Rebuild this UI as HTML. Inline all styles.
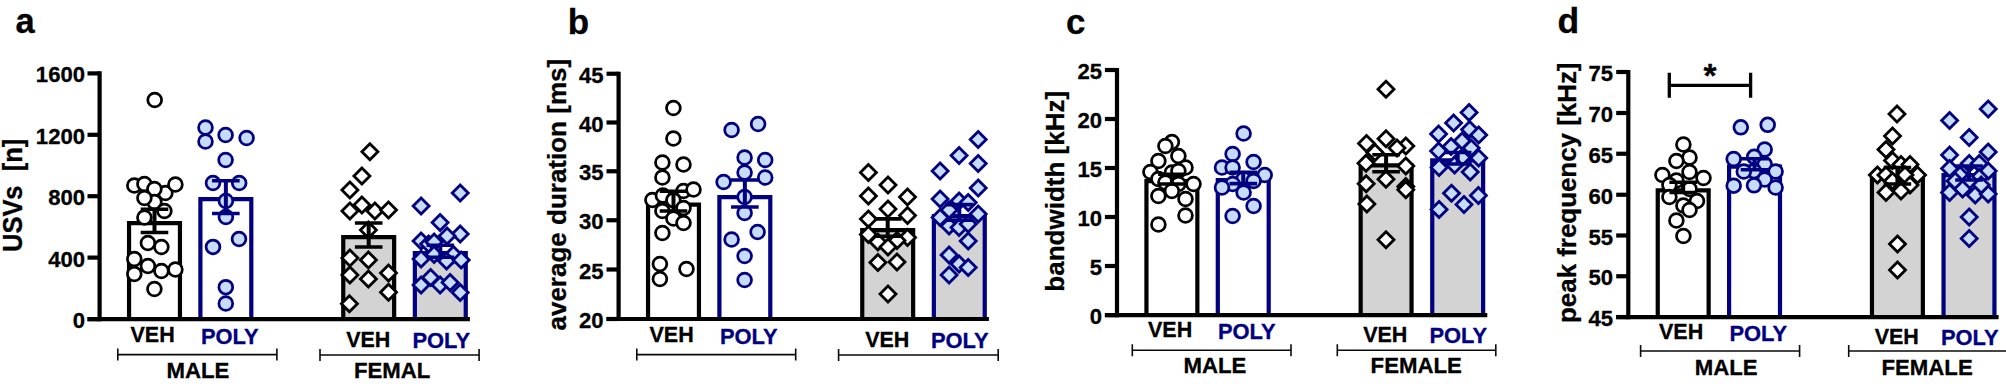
<!DOCTYPE html>
<html lang="en">
<head>
<meta charset="utf-8">
<title>Figure</title>
<style>
html,body{margin:0;padding:0;background:#ffffff;}
body{width:2006px;height:387px;overflow:hidden;}
svg{display:block;}
svg text{font-family:"Liberation Sans",sans-serif;font-weight:bold;stroke-width:0.3px;stroke-linejoin:round;}
</style>
</head>
<body>
<svg width="2006" height="387" viewBox="0 0 2006 387">
<rect x="0" y="0" width="2006" height="387" fill="#ffffff"/>
<g>
<path d="M129.05 319.1 V223.1 H179.95 V319.1" fill="#ffffff" stroke="#000000" stroke-width="4.2" stroke-linejoin="miter"/>
<path d="M200.4 319.1 V199.1 H251.3 V319.1" fill="#ffffff" stroke="#000080" stroke-width="4.2" stroke-linejoin="miter"/>
<path d="M343.25 319.1 V237.1 H394.15 V319.1" fill="#d3d3d3" stroke="#000000" stroke-width="4.2" stroke-linejoin="miter"/>
<path d="M414.85 319.1 V253.1 H465.75 V319.1" fill="#d3d3d3" stroke="#000080" stroke-width="4.2" stroke-linejoin="miter"/>
<path d="M99.6 71.3 V321.2" stroke="#000000" stroke-width="4.2" fill="none"/>
<path d="M87.5 319.1 H469.9" stroke="#000000" stroke-width="4.2" fill="none"/>
<path d="M87.5 73.4 H99.6" stroke="#000000" stroke-width="4.2" fill="none"/>
<path d="M87.5 134.8 H99.6" stroke="#000000" stroke-width="4.2" fill="none"/>
<path d="M87.5 196.2 H99.6" stroke="#000000" stroke-width="4.2" fill="none"/>
<path d="M87.5 257.6 H99.6" stroke="#000000" stroke-width="4.2" fill="none"/>
<path d="M87.5 319.1 H99.6" stroke="#000000" stroke-width="4.2" fill="none"/>
<text transform="translate(85 82.4) scale(1 1.04)" font-size="22.1" fill="#000000" stroke="#000000" text-anchor="end">1600</text>
<text transform="translate(85 143.8) scale(1 1.04)" font-size="22.1" fill="#000000" stroke="#000000" text-anchor="end">1200</text>
<text transform="translate(85 205.2) scale(1 1.04)" font-size="22.1" fill="#000000" stroke="#000000" text-anchor="end">800</text>
<text transform="translate(85 266.6) scale(1 1.04)" font-size="22.1" fill="#000000" stroke="#000000" text-anchor="end">400</text>
<text transform="translate(85 328.1) scale(1 1.04)" font-size="22.1" fill="#000000" stroke="#000000" text-anchor="end">0</text>
<text transform="translate(21.8 195.4) rotate(-90) scale(1 1.08)" font-size="25.5" fill="#000000" stroke="#000000" text-anchor="middle" xml:space="preserve" style="white-space:pre">USVs  [n]</text>
<g fill="#ffffff" stroke="#000000" stroke-width="2.75" stroke-linejoin="miter">
<circle cx="154.7" cy="100" r="6.9"/>
<circle cx="134.3" cy="185.5" r="6.9"/>
<circle cx="144.4" cy="184" r="6.9"/>
<circle cx="165.4" cy="193" r="6.9"/>
<circle cx="154.4" cy="189" r="6.9"/>
<circle cx="175.4" cy="184.5" r="6.9"/>
<circle cx="154.4" cy="202" r="6.9"/>
<circle cx="144.4" cy="198" r="6.9"/>
<circle cx="164.4" cy="211" r="6.9"/>
<circle cx="144.4" cy="217.5" r="6.9"/>
<circle cx="147.9" cy="243" r="6.9"/>
<circle cx="161.4" cy="247" r="6.9"/>
<circle cx="134.3" cy="259" r="6.9"/>
<circle cx="147.9" cy="266" r="6.9"/>
<circle cx="161.4" cy="271" r="6.9"/>
<circle cx="175.4" cy="269.5" r="6.9"/>
<circle cx="134.3" cy="274" r="6.9"/>
<circle cx="154.4" cy="289" r="6.9"/>
</g>
<g fill="#c6dcf8" stroke="#000080" stroke-width="2.75" stroke-linejoin="miter">
<circle cx="205.5" cy="127.5" r="6.9"/>
<circle cx="205.5" cy="141.5" r="6.9"/>
<circle cx="225.6" cy="135" r="6.9"/>
<circle cx="246.6" cy="138" r="6.9"/>
<circle cx="225.6" cy="160" r="6.9"/>
<circle cx="213" cy="183" r="6.9"/>
<circle cx="239.2" cy="183" r="6.9"/>
<circle cx="225.9" cy="201" r="6.9"/>
<circle cx="225.9" cy="217" r="6.9"/>
<circle cx="239" cy="239" r="6.9"/>
<circle cx="213" cy="246.9" r="6.9"/>
<circle cx="225.8" cy="287.2" r="6.9"/>
<circle cx="225.8" cy="303.5" r="6.9"/>
</g>
<g fill="#ffffff" stroke="#000000" stroke-width="2.8" stroke-linejoin="miter">
<path d="M369.9 143.8L377.9 151.8L369.9 159.8L361.9 151.8Z"/>
<path d="M361.9 168L369.9 176L361.9 184L353.9 176Z"/>
<path d="M349.9 182L357.9 190L349.9 198L341.9 190Z"/>
<path d="M361.9 197L369.9 205L361.9 213L353.9 205Z"/>
<path d="M349.9 203L357.9 211L349.9 219L341.9 211Z"/>
<path d="M374.9 203L382.9 211L374.9 219L366.9 211Z"/>
<path d="M388.5 202L396.5 210L388.5 218L380.5 210Z"/>
<path d="M368.4 222L376.4 230L368.4 238L360.4 230Z"/>
<path d="M349.9 250L357.9 258L349.9 266L341.9 258Z"/>
<path d="M368.4 252L376.4 260L368.4 268L360.4 260Z"/>
<path d="M388.5 265L396.5 273L388.5 281L380.5 273Z"/>
<path d="M349.9 267L357.9 275L349.9 283L341.9 275Z"/>
<path d="M368.4 271L376.4 279L368.4 287L360.4 279Z"/>
<path d="M388.5 284.3L396.5 292.3L388.5 300.3L380.5 292.3Z"/>
<path d="M349.4 295.7L357.4 303.7L349.4 311.7L341.4 303.7Z"/>
</g>
<g fill="#c6dcf8" stroke="#000080" stroke-width="2.8" stroke-linejoin="miter">
<path d="M460.2 185L468.2 193L460.2 201L452.2 193Z"/>
<path d="M421.1 198L429.1 206L421.1 214L413.1 206Z"/>
<path d="M440.1 214.5L448.1 222.5L440.1 230.5L432.1 222.5Z"/>
<path d="M460.2 226L468.2 234L460.2 242L452.2 234Z"/>
<path d="M447.1 228L455.1 236L447.1 244L439.1 236Z"/>
<path d="M421.1 233L429.1 241L421.1 249L413.1 241Z"/>
<path d="M428.6 236L436.6 244L428.6 252L420.6 244Z"/>
<path d="M434.1 234L442.1 242L434.1 250L426.1 242Z"/>
<path d="M434.1 246.4L442.1 254.4L434.1 262.4L426.1 254.4Z"/>
<path d="M453.4 246.4L461.4 254.4L453.4 262.4L445.4 254.4Z"/>
<path d="M421.1 251L429.1 259L421.1 267L413.1 259Z"/>
<path d="M446.6 253L454.6 261L446.6 269L438.6 261Z"/>
<path d="M461.2 252L469.2 260L461.2 268L453.2 260Z"/>
<path d="M430.6 269.5L438.6 277.5L430.6 285.5L422.6 277.5Z"/>
<path d="M421.1 277L429.1 285L421.1 293L413.1 285Z"/>
<path d="M440.1 277L448.1 285L440.1 293L432.1 285Z"/>
<path d="M450.1 274.5L458.1 282.5L450.1 290.5L442.1 282.5Z"/>
<path d="M460.2 284.5L468.2 292.5L460.2 300.5L452.2 292.5Z"/>
</g>
<path d="M154.5 209.3 V232.5" stroke="#000000" stroke-width="4" fill="none"/>
<path d="M140.7 209.3 H168.3 M140.7 232.5 H168.3" stroke="#000000" stroke-width="3.6" fill="none"/>
<path d="M225.85 180.8 V213.5" stroke="#000080" stroke-width="4" fill="none"/>
<path d="M212.05 180.8 H239.65 M212.05 213.5 H239.65" stroke="#000080" stroke-width="3.6" fill="none"/>
<path d="M368.7 223 V247" stroke="#000000" stroke-width="4" fill="none"/>
<path d="M354.9 223 H382.5 M354.9 247 H382.5" stroke="#000000" stroke-width="3.6" fill="none"/>
<path d="M440.3 245.3 V257.3" stroke="#000080" stroke-width="4" fill="none"/>
<path d="M426.5 245.3 H454.1 M426.5 257.3 H454.1" stroke="#000080" stroke-width="3.6" fill="none"/>
<text transform="translate(130.5 342) scale(1 1.05)" font-size="21.5" fill="#000000" stroke="#000000" text-anchor="start">VEH</text>
<text transform="translate(201 344) scale(1 1.03)" font-size="21.9" fill="#000080" stroke="#000080" text-anchor="start">POLY</text>
<text transform="translate(346.2 347) scale(1 1.05)" font-size="21.5" fill="#000000" stroke="#000000" text-anchor="start">VEH</text>
<text transform="translate(412.5 348) scale(1 1.03)" font-size="21.9" fill="#000080" stroke="#000080" text-anchor="start">POLY</text>
<path d="M117.8 348.6 V360.6 M276.9 348.6 V360.6 M117.8 354.6 H276.9" stroke="#0a0a0a" stroke-width="1.6" fill="none"/>
<path d="M320 349 V361 M479.1 349 V361 M320 355 H479.1" stroke="#0a0a0a" stroke-width="1.6" fill="none"/>
<text transform="translate(166.4 378.2) scale(1 1.03)" font-size="22.2" fill="#000000" stroke="#000000" text-anchor="start">MALE</text>
<text transform="translate(354 378.2) scale(1 1.03)" font-size="22.2" fill="#000000" stroke="#000000" text-anchor="start">FEMAL</text>
<text x="15.5" y="33" font-size="34.5" fill="#000000" stroke="#000000" text-anchor="start">a</text>
</g>
<g>
<path d="M648.05 319 V204.6 H698.95 V319" fill="#ffffff" stroke="#000000" stroke-width="4.2" stroke-linejoin="miter"/>
<path d="M719.4 319 V197.1 H770.3 V319" fill="#ffffff" stroke="#000080" stroke-width="4.2" stroke-linejoin="miter"/>
<path d="M862.25 319 V230.1 H913.15 V319" fill="#d3d3d3" stroke="#000000" stroke-width="4.2" stroke-linejoin="miter"/>
<path d="M933.85 319 V216.1 H984.75 V319" fill="#d3d3d3" stroke="#000080" stroke-width="4.2" stroke-linejoin="miter"/>
<path d="M618.6 71.65 V321.1" stroke="#000000" stroke-width="4.2" fill="none"/>
<path d="M606.5 319 H988.9" stroke="#000000" stroke-width="4.2" fill="none"/>
<path d="M606.5 73.75 H618.6" stroke="#000000" stroke-width="4.2" fill="none"/>
<path d="M606.5 122.5 H618.6" stroke="#000000" stroke-width="4.2" fill="none"/>
<path d="M606.5 171.25 H618.6" stroke="#000000" stroke-width="4.2" fill="none"/>
<path d="M606.5 220.25 H618.6" stroke="#000000" stroke-width="4.2" fill="none"/>
<path d="M606.5 269.5 H618.6" stroke="#000000" stroke-width="4.2" fill="none"/>
<path d="M606.5 319 H618.6" stroke="#000000" stroke-width="4.2" fill="none"/>
<text transform="translate(603.5 82.75) scale(1 1.04)" font-size="22.1" fill="#000000" stroke="#000000" text-anchor="end">45</text>
<text transform="translate(603.5 131.5) scale(1 1.04)" font-size="22.1" fill="#000000" stroke="#000000" text-anchor="end">40</text>
<text transform="translate(603.5 180.25) scale(1 1.04)" font-size="22.1" fill="#000000" stroke="#000000" text-anchor="end">35</text>
<text transform="translate(603.5 229.25) scale(1 1.04)" font-size="22.1" fill="#000000" stroke="#000000" text-anchor="end">30</text>
<text transform="translate(603.5 278.5) scale(1 1.04)" font-size="22.1" fill="#000000" stroke="#000000" text-anchor="end">25</text>
<text transform="translate(603.5 328) scale(1 1.04)" font-size="22.1" fill="#000000" stroke="#000000" text-anchor="end">20</text>
<text transform="translate(565.5 194.7) rotate(-90) scale(1 1)" font-size="26" fill="#000000" stroke="#000000" text-anchor="middle" xml:space="preserve" style="white-space:pre">average duration [ms]</text>
<g fill="#ffffff" stroke="#000000" stroke-width="2.75" stroke-linejoin="miter">
<circle cx="673.4" cy="108" r="6.9"/>
<circle cx="673.4" cy="138.5" r="6.9"/>
<circle cx="662.4" cy="162.5" r="6.9"/>
<circle cx="683.5" cy="164.5" r="6.9"/>
<circle cx="662.4" cy="177.5" r="6.9"/>
<circle cx="683.5" cy="191" r="6.9"/>
<circle cx="693.5" cy="189.5" r="6.9"/>
<circle cx="652.4" cy="200" r="6.9"/>
<circle cx="662.9" cy="195.5" r="6.9"/>
<circle cx="673.4" cy="200.2" r="6.9"/>
<circle cx="662.4" cy="211" r="6.9"/>
<circle cx="683.5" cy="208" r="6.9"/>
<circle cx="673.4" cy="218.5" r="6.9"/>
<circle cx="683.5" cy="223" r="6.9"/>
<circle cx="662.4" cy="233" r="6.9"/>
<circle cx="659.9" cy="264" r="6.9"/>
<circle cx="686.5" cy="269" r="6.9"/>
<circle cx="659.9" cy="279" r="6.9"/>
</g>
<g fill="#c6dcf8" stroke="#000080" stroke-width="2.75" stroke-linejoin="miter">
<circle cx="731.6" cy="130" r="6.9"/>
<circle cx="758.1" cy="124" r="6.9"/>
<circle cx="744.6" cy="157.5" r="6.9"/>
<circle cx="765.2" cy="160" r="6.9"/>
<circle cx="744.6" cy="172.5" r="6.9"/>
<circle cx="765.2" cy="177.5" r="6.9"/>
<circle cx="723.6" cy="182" r="6.9"/>
<circle cx="744.6" cy="197" r="6.9"/>
<circle cx="744.6" cy="213" r="6.9"/>
<circle cx="757.6" cy="232" r="6.9"/>
<circle cx="731.6" cy="239.5" r="6.9"/>
<circle cx="744.6" cy="256" r="6.9"/>
<circle cx="744.6" cy="280" r="6.9"/>
</g>
<g fill="#ffffff" stroke="#000000" stroke-width="2.8" stroke-linejoin="miter">
<path d="M868.4 164.5L876.4 172.5L868.4 180.5L860.4 172.5Z"/>
<path d="M888 177L896 185L888 193L880 185Z"/>
<path d="M868.4 188L876.4 196L868.4 204L860.4 196Z"/>
<path d="M907.5 189L915.5 197L907.5 205L899.5 197Z"/>
<path d="M888 201L896 209L888 217L880 209Z"/>
<path d="M868.4 211L876.4 219L868.4 227L860.4 219Z"/>
<path d="M907.5 207.5L915.5 215.5L907.5 223.5L899.5 215.5Z"/>
<path d="M868.4 226.5L876.4 234.5L868.4 242.5L860.4 234.5Z"/>
<path d="M907.5 229.5L915.5 237.5L907.5 245.5L899.5 237.5Z"/>
<path d="M877.9 234L885.9 242L877.9 250L869.9 242Z"/>
<path d="M897 232.5L905 240.5L897 248.5L889 240.5Z"/>
<path d="M888 239L896 247L888 255L880 247Z"/>
<path d="M877.9 254.5L885.9 262.5L877.9 270.5L869.9 262.5Z"/>
<path d="M897 254L905 262L897 270L889 262Z"/>
<path d="M888 286L896 294L888 302L880 294Z"/>
</g>
<g fill="#c6dcf8" stroke="#000080" stroke-width="2.8" stroke-linejoin="miter">
<path d="M978.2 131.5L986.2 139.5L978.2 147.5L970.2 139.5Z"/>
<path d="M959.1 147.5L967.1 155.5L959.1 163.5L951.1 155.5Z"/>
<path d="M978.2 155.5L986.2 163.5L978.2 171.5L970.2 163.5Z"/>
<path d="M940.1 163L948.1 171L940.1 179L932.1 171Z"/>
<path d="M978.2 180L986.2 188L978.2 196L970.2 188Z"/>
<path d="M940.1 191L948.1 199L940.1 207L932.1 199Z"/>
<path d="M959.1 193L967.1 201L959.1 209L951.1 201Z"/>
<path d="M968.2 194.5L976.2 202.5L968.2 210.5L960.2 202.5Z"/>
<path d="M949.1 202L957.1 210L949.1 218L941.1 210Z"/>
<path d="M978.2 206L986.2 214L978.2 222L970.2 214Z"/>
<path d="M940.1 209.5L948.1 217.5L940.1 225.5L932.1 217.5Z"/>
<path d="M949.1 218L957.1 226L949.1 234L941.1 226Z"/>
<path d="M959.1 219.5L967.1 227.5L959.1 235.5L951.1 227.5Z"/>
<path d="M968.2 216L976.2 224L968.2 232L960.2 224Z"/>
<path d="M968.2 233L976.2 241L968.2 249L960.2 241Z"/>
<path d="M949.1 247L957.1 255L949.1 263L941.1 255Z"/>
<path d="M959.1 256L967.1 264L959.1 272L951.1 264Z"/>
<path d="M968.2 259.5L976.2 267.5L968.2 275.5L960.2 267.5Z"/>
<path d="M949.1 267L957.1 275L949.1 283L941.1 275Z"/>
</g>
<path d="M673.5 191.2 V211" stroke="#000000" stroke-width="4" fill="none"/>
<path d="M659.7 191.2 H687.3 M659.7 211 H687.3" stroke="#000000" stroke-width="3.6" fill="none"/>
<path d="M744.85 180 V207" stroke="#000080" stroke-width="4" fill="none"/>
<path d="M731.05 180 H758.65 M731.05 207 H758.65" stroke="#000080" stroke-width="3.6" fill="none"/>
<path d="M887.7 218.9 V236.3" stroke="#000000" stroke-width="4" fill="none"/>
<path d="M873.9 218.9 H901.5 M873.9 236.3 H901.5" stroke="#000000" stroke-width="3.6" fill="none"/>
<path d="M959.3 204.6 V220.3" stroke="#000080" stroke-width="4" fill="none"/>
<path d="M945.5 204.6 H973.1 M945.5 220.3 H973.1" stroke="#000080" stroke-width="3.6" fill="none"/>
<text transform="translate(649.5 342) scale(1 1.05)" font-size="21.5" fill="#000000" stroke="#000000" text-anchor="start">VEH</text>
<text transform="translate(720 344) scale(1 1.03)" font-size="21.9" fill="#000080" stroke="#000080" text-anchor="start">POLY</text>
<text transform="translate(865.2 347) scale(1 1.05)" font-size="21.5" fill="#000000" stroke="#000000" text-anchor="start">VEH</text>
<text transform="translate(931 348) scale(1 1.03)" font-size="21.9" fill="#000080" stroke="#000080" text-anchor="start">POLY</text>
<path d="M636.8 348.6 V360.6 M795.7 348.6 V360.6 M636.8 354.6 H795.7" stroke="#0a0a0a" stroke-width="1.6" fill="none"/>
<path d="M838.6 349 V361 M998.2 349 V361 M838.6 355 H998.2" stroke="#0a0a0a" stroke-width="1.6" fill="none"/>
<text x="567.8" y="34.2" font-size="35" fill="#000000" stroke="#000000" text-anchor="start">b</text>
</g>
<g>
<path d="M1146.45 315.1 V181.2 H1197.35 V315.1" fill="#ffffff" stroke="#000000" stroke-width="4.2" stroke-linejoin="miter"/>
<path d="M1217.8 315.1 V180.1 H1268.7 V315.1" fill="#ffffff" stroke="#000080" stroke-width="4.2" stroke-linejoin="miter"/>
<path d="M1360.65 315.1 V165.3 H1411.55 V315.1" fill="#d3d3d3" stroke="#000000" stroke-width="4.2" stroke-linejoin="miter"/>
<path d="M1432.25 315.1 V160.3 H1483.15 V315.1" fill="#d3d3d3" stroke="#000080" stroke-width="4.2" stroke-linejoin="miter"/>
<path d="M1117 67.9 V317.2" stroke="#000000" stroke-width="4.2" fill="none"/>
<path d="M1104.9 315.1 H1487.3" stroke="#000000" stroke-width="4.2" fill="none"/>
<path d="M1104.9 70 H1117" stroke="#000000" stroke-width="4.2" fill="none"/>
<path d="M1104.9 119 H1117" stroke="#000000" stroke-width="4.2" fill="none"/>
<path d="M1104.9 168 H1117" stroke="#000000" stroke-width="4.2" fill="none"/>
<path d="M1104.9 217 H1117" stroke="#000000" stroke-width="4.2" fill="none"/>
<path d="M1104.9 266 H1117" stroke="#000000" stroke-width="4.2" fill="none"/>
<path d="M1104.9 315.1 H1117" stroke="#000000" stroke-width="4.2" fill="none"/>
<text transform="translate(1102 79) scale(1 1.04)" font-size="22.1" fill="#000000" stroke="#000000" text-anchor="end">25</text>
<text transform="translate(1102 128) scale(1 1.04)" font-size="22.1" fill="#000000" stroke="#000000" text-anchor="end">20</text>
<text transform="translate(1102 177) scale(1 1.04)" font-size="22.1" fill="#000000" stroke="#000000" text-anchor="end">15</text>
<text transform="translate(1102 226) scale(1 1.04)" font-size="22.1" fill="#000000" stroke="#000000" text-anchor="end">10</text>
<text transform="translate(1102 275) scale(1 1.04)" font-size="22.1" fill="#000000" stroke="#000000" text-anchor="end">5</text>
<text transform="translate(1102 324.1) scale(1 1.04)" font-size="22.1" fill="#000000" stroke="#000000" text-anchor="end">0</text>
<text transform="translate(1063.6 191.3) rotate(-90) scale(1 1)" font-size="26" fill="#000000" stroke="#000000" text-anchor="middle" xml:space="preserve" style="white-space:pre">bandwidth [kHz]</text>
<g fill="#ffffff" stroke="#000000" stroke-width="2.75" stroke-linejoin="miter">
<circle cx="1171.9" cy="142" r="6.9"/>
<circle cx="1165.4" cy="146" r="6.9"/>
<circle cx="1178.4" cy="156" r="6.9"/>
<circle cx="1158.4" cy="161" r="6.9"/>
<circle cx="1185.5" cy="167.5" r="6.9"/>
<circle cx="1150.4" cy="172" r="6.9"/>
<circle cx="1171.9" cy="172.5" r="6.9"/>
<circle cx="1178.4" cy="171" r="6.9"/>
<circle cx="1158.4" cy="179" r="6.9"/>
<circle cx="1165.4" cy="182.5" r="6.9"/>
<circle cx="1178.4" cy="184" r="6.9"/>
<circle cx="1193.5" cy="184" r="6.9"/>
<circle cx="1171.9" cy="191" r="6.9"/>
<circle cx="1158.4" cy="196" r="6.9"/>
<circle cx="1185.5" cy="199" r="6.9"/>
<circle cx="1185.5" cy="215.5" r="6.9"/>
<circle cx="1158.4" cy="224.5" r="6.9"/>
</g>
<g fill="#c6dcf8" stroke="#000080" stroke-width="2.75" stroke-linejoin="miter">
<circle cx="1243.6" cy="133.5" r="6.9"/>
<circle cx="1232.6" cy="154" r="6.9"/>
<circle cx="1253.6" cy="162" r="6.9"/>
<circle cx="1222" cy="167.5" r="6.9"/>
<circle cx="1232.6" cy="167.5" r="6.9"/>
<circle cx="1264.7" cy="175" r="6.9"/>
<circle cx="1243.6" cy="179" r="6.9"/>
<circle cx="1253.6" cy="181" r="6.9"/>
<circle cx="1232.6" cy="184" r="6.9"/>
<circle cx="1222" cy="187.5" r="6.9"/>
<circle cx="1243.6" cy="192.5" r="6.9"/>
<circle cx="1253.6" cy="206" r="6.9"/>
<circle cx="1232.6" cy="216" r="6.9"/>
</g>
<g fill="#ffffff" stroke="#000000" stroke-width="2.8" stroke-linejoin="miter">
<path d="M1386 81.3L1394 89.3L1386 97.3L1378 89.3Z"/>
<path d="M1386 130.8L1394 138.8L1386 146.8L1378 138.8Z"/>
<path d="M1366.5 135.5L1374.5 143.5L1366.5 151.5L1358.5 143.5Z"/>
<path d="M1405.8 138L1413.8 146L1405.8 154L1397.8 146Z"/>
<path d="M1397 140L1405 148L1397 156L1389 148Z"/>
<path d="M1375 144.5L1383 152.5L1375 160.5L1367 152.5Z"/>
<path d="M1366 155.3L1374 163.3L1366 171.3L1358 163.3Z"/>
<path d="M1405.8 157.9L1413.8 165.9L1405.8 173.9L1397.8 165.9Z"/>
<path d="M1386 171.2L1394 179.2L1386 187.2L1378 179.2Z"/>
<path d="M1366.2 175.8L1374.2 183.8L1366.2 191.8L1358.2 183.8Z"/>
<path d="M1405.8 178.5L1413.8 186.5L1405.8 194.5L1397.8 186.5Z"/>
<path d="M1405.8 181.8L1413.8 189.8L1405.8 197.8L1397.8 189.8Z"/>
<path d="M1366.9 196L1374.9 204L1366.9 212L1358.9 204Z"/>
<path d="M1386 231.7L1394 239.7L1386 247.7L1378 239.7Z"/>
</g>
<g fill="#c6dcf8" stroke="#000080" stroke-width="2.8" stroke-linejoin="miter">
<path d="M1469.1 104.5L1477.1 112.5L1469.1 120.5L1461.1 112.5Z"/>
<path d="M1453.6 115L1461.6 123L1453.6 131L1445.6 123Z"/>
<path d="M1469.6 121.5L1477.6 129.5L1469.6 137.5L1461.6 129.5Z"/>
<path d="M1438.6 126L1446.6 134L1438.6 142L1430.6 134Z"/>
<path d="M1478.7 127L1486.7 135L1478.7 143L1470.7 135Z"/>
<path d="M1462.1 133L1470.1 141L1462.1 149L1454.1 141Z"/>
<path d="M1451.1 138.5L1459.1 146.5L1451.1 154.5L1443.1 146.5Z"/>
<path d="M1471.2 140L1479.2 148L1471.2 156L1463.2 148Z"/>
<path d="M1438.6 143L1446.6 151L1438.6 159L1430.6 151Z"/>
<path d="M1478.7 150L1486.7 158L1478.7 166L1470.7 158Z"/>
<path d="M1462.1 149.5L1470.1 157.5L1462.1 165.5L1454.1 157.5Z"/>
<path d="M1439.1 159.5L1447.1 167.5L1439.1 175.5L1431.1 167.5Z"/>
<path d="M1454.6 157L1462.6 165L1454.6 173L1446.6 165Z"/>
<path d="M1470.2 164L1478.2 172L1470.2 180L1462.2 172Z"/>
<path d="M1451.5 185.3L1459.5 193.3L1451.5 201.3L1443.5 193.3Z"/>
<path d="M1478.4 187.5L1486.4 195.5L1478.4 203.5L1470.4 195.5Z"/>
<path d="M1464 196.5L1472 204.5L1464 212.5L1456 204.5Z"/>
<path d="M1439.1 201.5L1447.1 209.5L1439.1 217.5L1431.1 209.5Z"/>
</g>
<path d="M1171.9 174.2 V184" stroke="#000000" stroke-width="4" fill="none"/>
<path d="M1158.1 174.2 H1185.7 M1158.1 184 H1185.7" stroke="#000000" stroke-width="3.6" fill="none"/>
<path d="M1243.25 172.3 V183.6" stroke="#000080" stroke-width="4" fill="none"/>
<path d="M1229.45 172.3 H1257.05 M1229.45 183.6 H1257.05" stroke="#000080" stroke-width="3.6" fill="none"/>
<path d="M1386.1 154.8 V171.7" stroke="#000000" stroke-width="4" fill="none"/>
<path d="M1372.3 154.8 H1399.9 M1372.3 171.7 H1399.9" stroke="#000000" stroke-width="3.6" fill="none"/>
<path d="M1457.7 152.5 V164" stroke="#000080" stroke-width="4" fill="none"/>
<path d="M1443.9 152.5 H1471.5 M1443.9 164 H1471.5" stroke="#000080" stroke-width="3.6" fill="none"/>
<text transform="translate(1148 337) scale(1 1.05)" font-size="21.5" fill="#000000" stroke="#000000" text-anchor="start">VEH</text>
<text transform="translate(1218 339) scale(1 1.03)" font-size="21.9" fill="#000080" stroke="#000080" text-anchor="start">POLY</text>
<text transform="translate(1363.2 342) scale(1 1.05)" font-size="21.5" fill="#000000" stroke="#000000" text-anchor="start">VEH</text>
<text transform="translate(1429.5 343) scale(1 1.03)" font-size="21.9" fill="#000080" stroke="#000080" text-anchor="start">POLY</text>
<path d="M1132.3 344.3 V356.3 M1291 344.3 V356.3 M1132.3 350.3 H1291" stroke="#0a0a0a" stroke-width="1.6" fill="none"/>
<path d="M1337.3 344.3 V356.3 M1495.8 344.3 V356.3 M1337.3 350.3 H1495.8" stroke="#0a0a0a" stroke-width="1.6" fill="none"/>
<text transform="translate(1183.4 373.2) scale(1 1.03)" font-size="22.2" fill="#000000" stroke="#000000" text-anchor="start">MALE</text>
<text transform="translate(1370.6 373.2) scale(1 1.03)" font-size="22.2" fill="#000000" stroke="#000000" text-anchor="start">FEMALE</text>
<text x="1066" y="33.6" font-size="35" fill="#000000" stroke="#000000" text-anchor="start">c</text>
</g>
<g>
<path d="M1657.75 317.05 V190.3 H1708.65 V317.05" fill="#ffffff" stroke="#000000" stroke-width="4.2" stroke-linejoin="miter"/>
<path d="M1729.1 317.05 V166.7 H1780 V317.05" fill="#ffffff" stroke="#000080" stroke-width="4.2" stroke-linejoin="miter"/>
<path d="M1871.95 317.05 V178.1 H1922.85 V317.05" fill="#d3d3d3" stroke="#000000" stroke-width="4.2" stroke-linejoin="miter"/>
<path d="M1943.55 317.05 V175.1 H1994.45 V317.05" fill="#d3d3d3" stroke="#000080" stroke-width="4.2" stroke-linejoin="miter"/>
<path d="M1628.3 69.9 V319.15" stroke="#000000" stroke-width="4.2" fill="none"/>
<path d="M1616.2 317.05 H1998.6" stroke="#000000" stroke-width="4.2" fill="none"/>
<path d="M1616.2 72 H1628.3" stroke="#000000" stroke-width="4.2" fill="none"/>
<path d="M1616.2 113 H1628.3" stroke="#000000" stroke-width="4.2" fill="none"/>
<path d="M1616.2 153.75 H1628.3" stroke="#000000" stroke-width="4.2" fill="none"/>
<path d="M1616.2 194.75 H1628.3" stroke="#000000" stroke-width="4.2" fill="none"/>
<path d="M1616.2 235.5 H1628.3" stroke="#000000" stroke-width="4.2" fill="none"/>
<path d="M1616.2 276.25 H1628.3" stroke="#000000" stroke-width="4.2" fill="none"/>
<path d="M1616.2 317.05 H1628.3" stroke="#000000" stroke-width="4.2" fill="none"/>
<text transform="translate(1613.1 81) scale(1 1.04)" font-size="22.1" fill="#000000" stroke="#000000" text-anchor="end">75</text>
<text transform="translate(1613.1 122) scale(1 1.04)" font-size="22.1" fill="#000000" stroke="#000000" text-anchor="end">70</text>
<text transform="translate(1613.1 162.75) scale(1 1.04)" font-size="22.1" fill="#000000" stroke="#000000" text-anchor="end">65</text>
<text transform="translate(1613.1 203.75) scale(1 1.04)" font-size="22.1" fill="#000000" stroke="#000000" text-anchor="end">60</text>
<text transform="translate(1613.1 244.5) scale(1 1.04)" font-size="22.1" fill="#000000" stroke="#000000" text-anchor="end">55</text>
<text transform="translate(1613.1 285.25) scale(1 1.04)" font-size="22.1" fill="#000000" stroke="#000000" text-anchor="end">50</text>
<text transform="translate(1613.1 326.05) scale(1 1.04)" font-size="22.1" fill="#000000" stroke="#000000" text-anchor="end">45</text>
<text transform="translate(1575.5 192.75) rotate(-90) scale(1 1)" font-size="25.9" fill="#000000" stroke="#000000" text-anchor="middle" xml:space="preserve" style="white-space:pre">peak frequency [kHz]</text>
<g fill="#ffffff" stroke="#000000" stroke-width="2.75" stroke-linejoin="miter">
<circle cx="1683.4" cy="144.5" r="6.9"/>
<circle cx="1689.5" cy="157.5" r="6.9"/>
<circle cx="1676.4" cy="161" r="6.9"/>
<circle cx="1689.5" cy="172" r="6.9"/>
<circle cx="1662.4" cy="175" r="6.9"/>
<circle cx="1703.5" cy="178" r="6.9"/>
<circle cx="1676.4" cy="180.5" r="6.9"/>
<circle cx="1669.4" cy="185" r="6.9"/>
<circle cx="1689.5" cy="189" r="6.9"/>
<circle cx="1669.4" cy="197" r="6.9"/>
<circle cx="1697" cy="201" r="6.9"/>
<circle cx="1683.4" cy="205.5" r="6.9"/>
<circle cx="1689.5" cy="210" r="6.9"/>
<circle cx="1676.4" cy="220.5" r="6.9"/>
<circle cx="1683.4" cy="236" r="6.9"/>
</g>
<g fill="#c6dcf8" stroke="#000080" stroke-width="2.75" stroke-linejoin="miter">
<circle cx="1740.8" cy="127.3" r="6.9"/>
<circle cx="1767.7" cy="124.8" r="6.9"/>
<circle cx="1764.7" cy="149.5" r="6.9"/>
<circle cx="1733.7" cy="159" r="6.9"/>
<circle cx="1754.2" cy="156.8" r="6.9"/>
<circle cx="1764.7" cy="164.3" r="6.9"/>
<circle cx="1754" cy="171.2" r="6.9"/>
<circle cx="1743.8" cy="171.5" r="6.9"/>
<circle cx="1775.6" cy="171.5" r="6.9"/>
<circle cx="1764.7" cy="179.5" r="6.9"/>
<circle cx="1733.7" cy="185.7" r="6.9"/>
<circle cx="1754" cy="185.3" r="6.9"/>
<circle cx="1775.6" cy="187.5" r="6.9"/>
</g>
<g fill="#ffffff" stroke="#000000" stroke-width="2.8" stroke-linejoin="miter">
<path d="M1897 106L1905 114L1897 122L1889 114Z"/>
<path d="M1892.5 128L1900.5 136L1892.5 144L1884.5 136Z"/>
<path d="M1886 141.5L1894 149.5L1886 157.5L1878 149.5Z"/>
<path d="M1892.5 152.5L1900.5 160.5L1892.5 168.5L1884.5 160.5Z"/>
<path d="M1901 156.5L1909 164.5L1901 172.5L1893 164.5Z"/>
<path d="M1910 156.5L1918 164.5L1910 172.5L1902 164.5Z"/>
<path d="M1877.4 167L1885.4 175L1877.4 183L1869.4 175Z"/>
<path d="M1886 167L1894 175L1886 183L1878 175Z"/>
<path d="M1917.5 167L1925.5 175L1917.5 183L1909.5 175Z"/>
<path d="M1905 167L1913 175L1905 183L1897 175Z"/>
<path d="M1892.5 173L1900.5 181L1892.5 189L1884.5 181Z"/>
<path d="M1910 177L1918 185L1910 193L1902 185Z"/>
<path d="M1886 184.5L1894 192.5L1886 200.5L1878 192.5Z"/>
<path d="M1901 183L1909 191L1901 199L1893 191Z"/>
<path d="M1897.5 236L1905.5 244L1897.5 252L1889.5 244Z"/>
<path d="M1897.5 262L1905.5 270L1897.5 278L1889.5 270Z"/>
</g>
<g fill="#c6dcf8" stroke="#000080" stroke-width="2.8" stroke-linejoin="miter">
<path d="M1988.2 101L1996.2 109L1988.2 117L1980.2 109Z"/>
<path d="M1949.6 112.5L1957.6 120.5L1949.6 128.5L1941.6 120.5Z"/>
<path d="M1969.2 129.5L1977.2 137.5L1969.2 145.5L1961.2 137.5Z"/>
<path d="M1988.2 144L1996.2 152L1988.2 160L1980.2 152Z"/>
<path d="M1949.6 147L1957.6 155L1949.6 163L1941.6 155Z"/>
<path d="M1969.2 155.5L1977.2 163.5L1969.2 171.5L1961.2 163.5Z"/>
<path d="M1979.2 155.5L1987.2 163.5L1979.2 171.5L1971.2 163.5Z"/>
<path d="M1949.6 160.5L1957.6 168.5L1949.6 176.5L1941.6 168.5Z"/>
<path d="M1988.2 163L1996.2 171L1988.2 179L1980.2 171Z"/>
<path d="M1960.1 167L1968.1 175L1960.1 183L1952.1 175Z"/>
<path d="M1979.2 169.5L1987.2 177.5L1979.2 185.5L1971.2 177.5Z"/>
<path d="M1969.2 173L1977.2 181L1969.2 189L1961.2 181Z"/>
<path d="M1955.1 173L1963.1 181L1955.1 189L1947.1 181Z"/>
<path d="M1949.6 184.5L1957.6 192.5L1949.6 200.5L1941.6 192.5Z"/>
<path d="M1962.6 181L1970.6 189L1962.6 197L1954.6 189Z"/>
<path d="M1975.2 187L1983.2 195L1975.2 203L1967.2 195Z"/>
<path d="M1988.2 186L1996.2 194L1988.2 202L1980.2 194Z"/>
<path d="M1981.2 177L1989.2 185L1981.2 193L1973.2 185Z"/>
<path d="M1969.2 209L1977.2 217L1969.2 225L1961.2 217Z"/>
<path d="M1969.2 230.5L1977.2 238.5L1969.2 246.5L1961.2 238.5Z"/>
</g>
<path d="M1683.2 182.2 V192.5" stroke="#000000" stroke-width="4" fill="none"/>
<path d="M1669.4 182.2 H1697 M1669.4 192.5 H1697" stroke="#000000" stroke-width="3.6" fill="none"/>
<path d="M1754.55 158.8 V169.8" stroke="#000080" stroke-width="4" fill="none"/>
<path d="M1740.75 158.8 H1768.35 M1740.75 169.8 H1768.35" stroke="#000080" stroke-width="3.6" fill="none"/>
<path d="M1897.4 167.5 V184" stroke="#000000" stroke-width="4" fill="none"/>
<path d="M1883.6 167.5 H1911.2 M1883.6 184 H1911.2" stroke="#000000" stroke-width="3.6" fill="none"/>
<path d="M1969 166 V180" stroke="#000080" stroke-width="4" fill="none"/>
<path d="M1955.2 166 H1982.8 M1955.2 180 H1982.8" stroke="#000080" stroke-width="3.6" fill="none"/>
<text transform="translate(1659 339) scale(1 1.05)" font-size="21.5" fill="#000000" stroke="#000000" text-anchor="start">VEH</text>
<text transform="translate(1729.5 341) scale(1 1.03)" font-size="21.9" fill="#000080" stroke="#000080" text-anchor="start">POLY</text>
<text transform="translate(1874.7 344) scale(1 1.05)" font-size="21.5" fill="#000000" stroke="#000000" text-anchor="start">VEH</text>
<text transform="translate(1941 345) scale(1 1.03)" font-size="21.9" fill="#000080" stroke="#000080" text-anchor="start">POLY</text>
<path d="M1640.6 345 V357 M1799.6 345 V357 M1640.6 351 H1799.6" stroke="#0a0a0a" stroke-width="1.6" fill="none"/>
<path d="M1848.7 345 V357 M2010 345 V357 M1848.7 351 H2010" stroke="#0a0a0a" stroke-width="1.6" fill="none"/>
<text transform="translate(1694.8 375.3) scale(1 1.03)" font-size="22.2" fill="#000000" stroke="#000000" text-anchor="start">MALE</text>
<text transform="translate(1881.5 375.3) scale(1 1.03)" font-size="22.2" fill="#000000" stroke="#000000" text-anchor="start">FEMALE</text>
<text x="1557.6" y="32.8" font-size="35.5" fill="#000000" stroke="#000000" text-anchor="start">d</text>
<path d="M1669.3 72.8 V97.8 M1750.6 72.8 V97.8 M1669.3 85.3 H1750.6" stroke="#000000" stroke-width="3.3" fill="none"/>
<text x="1710.1" y="86.6" font-size="33.5" fill="#000000" stroke="#000000" text-anchor="middle">*</text>
</g>
</svg>
</body>
</html>
